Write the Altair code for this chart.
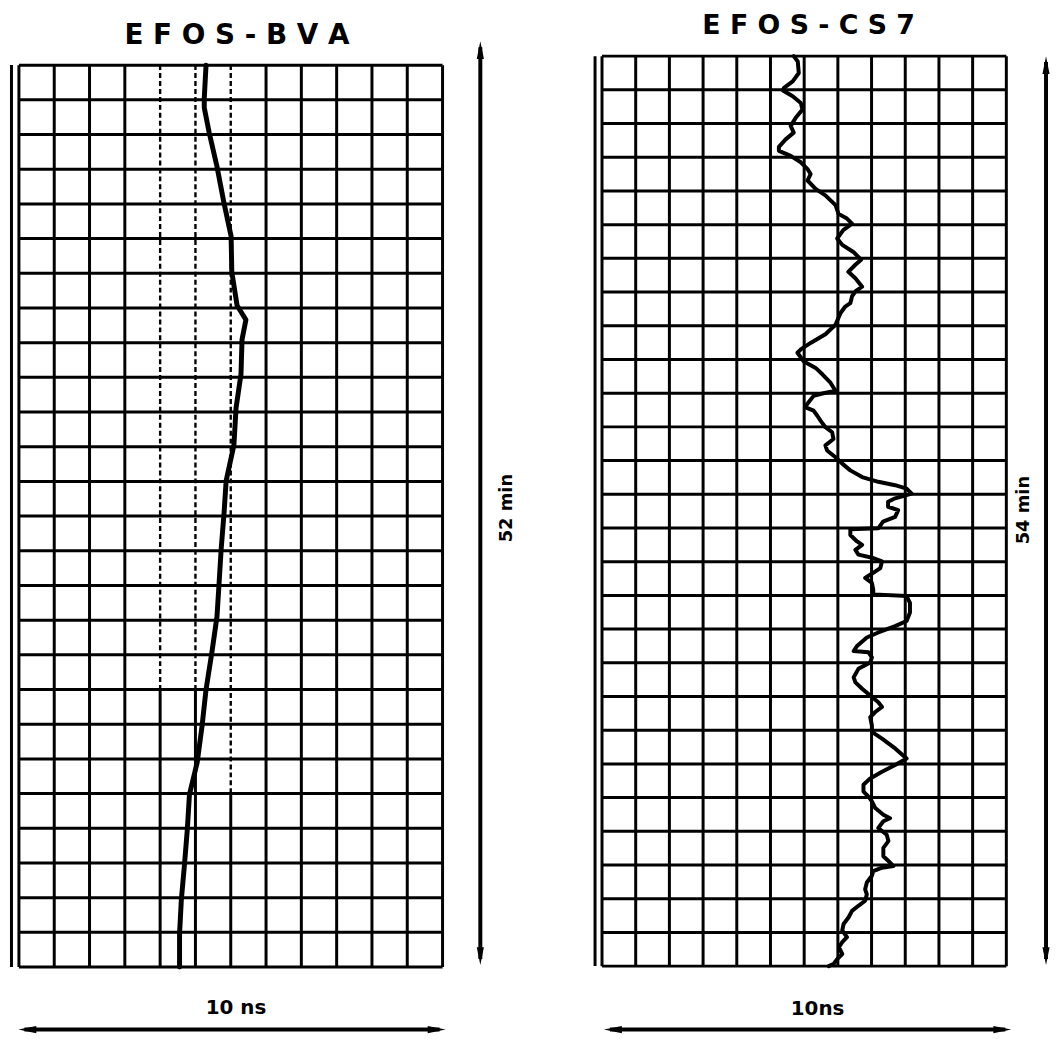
import altair as alt
import pandas as pd

FONT = "DejaVu Sans"
INK = "#000000"

# ---------------- data (grid divisions: x across, rows down) ----------------
# Left record: EFOS-BVA, 12 x 26 divisions (10 ns across, 52 min down)
bva_title = "E F O S - B V A"
bva_ns_label = "10 ns"
bva_min_label = "52 min"
bva_cols = 12
bva_rows = 26
bva_trace_x = [5.30, 5.25, 5.25, 5.39, 5.61, 5.80, 6.01, 6.03, 6.18, 6.43, 6.32,
               6.29, 6.15, 6.09, 5.87, 5.81, 5.73, 5.67, 5.61, 5.47, 5.30, 5.19,
               5.05, 4.83, 4.77, 4.69, 4.60, 4.55, 4.55]
bva_trace_y = [0.00, 0.95, 1.23, 1.95, 2.92, 3.93, 4.93, 5.96, 6.93, 7.34, 7.91,
               8.91, 9.89, 10.95, 11.98, 12.92, 13.93, 14.93, 15.90, 16.90, 18.00,
               19.03, 20.10, 21.03, 22.03, 23.04, 24.07, 25.04, 26.00]
# rulings printed dotted in the upper part of the left record
bva_dotted_cols = [4, 5, 6]
bva_dotted_until = [18, 18, 21]

# Right record: EFOS-CS7, 12 x 27 divisions (10 ns across, 54 min down)
cs7_title = "E F O S - C S 7"
cs7_ns_label = "10ns"
cs7_min_label = "54 min"
cs7_cols = 12
cs7_rows = 27
cs7_trace_y = [0.00, 0.16, 0.50, 0.75, 0.94, 1.02, 1.19, 1.39, 1.58, 1.83, 2.07,
               2.27, 2.47, 2.69, 2.81, 2.96, 3.15, 3.35, 3.50, 3.69, 3.94, 4.13,
               4.42, 4.68, 4.82, 4.97, 5.16, 5.41, 5.60, 5.81, 6.04, 6.19, 6.40,
               6.59, 6.84, 6.98, 7.13, 7.33, 7.43, 7.62, 7.97, 8.25, 8.51, 8.70,
               8.80, 9.05, 9.25, 9.44, 9.69, 9.93, 10.01, 10.08, 10.32, 10.42,
               10.52, 10.67, 10.82, 11.01, 11.16, 11.36, 11.55, 11.70, 11.90,
               12.09, 12.29, 12.49, 12.63, 12.73, 12.83, 12.98, 13.12, 13.22,
               13.37, 13.47, 13.67, 13.81, 14.01, 14.04, 14.21, 14.40, 14.50,
               14.65, 14.79, 14.89, 14.99, 15.19, 15.33, 15.48, 15.63, 15.83,
               15.97, 16.02, 16.22, 16.51, 16.76, 16.91, 17.10, 17.25, 17.50,
               17.65, 17.69, 17.84, 17.99, 18.18, 18.43, 18.58, 18.77, 18.97,
               19.17, 19.31, 19.46, 19.61, 19.86, 20.05, 20.25, 20.54, 20.84,
               21.03, 21.23, 21.43, 21.62, 21.82, 21.97, 22.11, 22.31, 22.51,
               22.61, 22.70, 22.90, 23.10, 23.29, 23.49, 23.74, 23.88, 24.03,
               24.08, 24.18, 24.32, 24.52, 24.72, 24.87, 25.06, 25.21, 25.36,
               25.55, 25.75, 25.94, 26.14, 26.29, 26.44, 26.64, 26.79, 26.93, 27.00]
cs7_trace_x = [5.69, 5.81, 5.84, 5.66, 5.40, 5.37, 5.66, 5.90, 5.95, 5.75, 5.60,
               5.69, 5.45, 5.25, 5.25, 5.60, 5.90, 6.10, 6.19, 6.10, 6.34, 6.63,
               6.93, 7.02, 7.27, 7.42, 7.16, 6.98, 7.13, 7.46, 7.69, 7.52, 7.31,
               7.52, 7.72, 7.52, 7.42, 7.37, 7.22, 7.08, 6.93, 6.63, 6.19, 5.90,
               5.80, 5.98, 6.34, 6.54, 6.78, 6.93, 6.54, 6.28, 6.09, 6.04,
               6.28, 6.39, 6.49, 6.63, 6.83, 6.87, 6.63, 6.68, 6.93,
               7.13, 7.37, 7.72, 8.20, 8.70, 9.04, 9.19, 8.70, 8.49,
               8.49, 8.79, 8.70, 8.34, 8.20, 7.37, 7.37, 7.57, 7.72,
               7.52, 7.61, 8.05, 8.31, 8.26, 8.05, 7.81, 8.01, 8.05,
               8.05, 9.04, 9.14, 9.14, 9.04, 8.70, 8.20, 7.86, 7.57,
               7.47, 7.91, 8.01, 7.96, 7.61, 7.47, 7.52, 7.72, 7.96,
               8.20, 8.31, 8.11, 7.96, 8.01, 8.01, 8.31, 8.70, 9.04,
               8.70, 8.31, 7.96, 7.76, 7.76, 7.91, 8.01, 8.11, 8.35,
               8.55, 8.35, 8.20, 8.45, 8.50, 8.35, 8.35, 8.50, 8.65,
               8.31, 8.05, 8.01, 7.86, 7.81, 7.86, 7.81, 7.61, 7.42,
               7.32, 7.17, 7.13, 7.27, 7.13, 7.03, 7.13, 6.98, 6.88, 6.73]

# ---------------- drawing helpers ----------------
ARROW_UP = "M0,-1L0.4,1L-0.4,1Z"
ARROW_DOWN = "M0,1L0.4,-1L-0.4,-1Z"
ARROW_LEFT = "M-1,0L1,0.4L1,-0.4Z"
ARROW_RIGHT = "M1,0L-1,0.4L-1,-0.4Z"
HEAD = 18  # arrow head length, px
GRID_W = 3.0


def panel(title, ns_label, min_label, cols, rows, tx, ty, col_px, row_px,
          lead, dotted_cols, dotted_until, trace_w, geo):
    width = cols * col_px
    height = (rows + lead) * row_px
    xs = alt.Scale(domain=[0, cols], nice=False, zero=False)
    ys = alt.Scale(domain=[-lead, rows], nice=False, zero=False, reverse=True)
    one = pd.DataFrame({"k": [0]})

    # rulings
    h_df = pd.DataFrame({"y": list(range(rows + 1)), "x0": 0, "x1": cols})
    solid, dots = [], []
    for c in range(cols + 1):
        if c in dotted_cols:
            u = dotted_until[dotted_cols.index(c)]
            dots.append({"x": c, "y0": 0, "y1": u})
            solid.append({"x": c, "y0": u, "y1": rows})
        else:
            solid.append({"x": c, "y0": 0, "y1": rows})
    layers = [
        alt.Chart(h_df).mark_rule(color=INK, strokeWidth=GRID_W).encode(
            x=alt.X("x0:Q", scale=xs, axis=None), x2="x1:Q",
            y=alt.Y("y:Q", scale=ys, axis=None)),
        alt.Chart(pd.DataFrame(solid)).mark_rule(color=INK, strokeWidth=GRID_W).encode(
            x=alt.X("x:Q", scale=xs, axis=None),
            y=alt.Y("y0:Q", scale=ys, axis=None), y2="y1:Q"),
    ]
    if dots:
        layers.append(
            alt.Chart(pd.DataFrame(dots)).mark_rule(
                color=INK, strokeWidth=2.4, strokeDash=[5, 3]).encode(
                x=alt.X("x:Q", scale=xs, axis=None),
                y=alt.Y("y0:Q", scale=ys, axis=None), y2="y1:Q"))

    # recorder trace
    tdf = pd.DataFrame({"i": range(len(tx)), "x": tx, "y": ty})
    layers.append(
        alt.Chart(tdf).mark_line(color=INK, strokeWidth=trace_w,
                                 strokeJoin="round", strokeCap="round").encode(
            x=alt.X("x:Q", scale=xs, axis=None),
            y=alt.Y("y:Q", scale=ys, axis=None),
            order="i:Q"))

    # side line left of the paper
    layers.append(alt.Chart(one).mark_rule(color=INK, strokeWidth=3.0).encode(
        x=alt.value(geo["side_x"]), y=alt.value(geo["side_y0"]),
        y2=alt.value(geo["side_y1"])))

    # title and labels
    txt = pd.DataFrame({"t": [title]})
    layers.append(alt.Chart(txt).mark_text(
        font=FONT, fontSize=geo["title_size"], fontWeight="bold", color=INK,
        align="center", baseline="alphabetic").encode(
        text="t:N", x=alt.value(geo["title_x"]), y=alt.value(geo["title_y"])))
    layers.append(alt.Chart(pd.DataFrame({"t": [ns_label]})).mark_text(
        font=FONT, fontSize=20, fontWeight="bold", color=INK,
        align="center", baseline="alphabetic").encode(
        text="t:N", x=alt.value(geo["ns_x"]), y=alt.value(geo["ns_y"])))
    layers.append(alt.Chart(pd.DataFrame({"t": [min_label]})).mark_text(
        font=FONT, fontSize=18, fontWeight="bold", color=INK, angle=270,
        align="center", baseline="middle").encode(
        text="t:N", x=alt.value(geo["min_x"]), y=alt.value(geo["min_y"])))

    # horizontal double arrow (10 ns)
    hx0, hx1, hy = geo["harrow_x0"], geo["harrow_x1"], geo["harrow_y"]
    layers.append(alt.Chart(one).mark_rule(color=INK, strokeWidth=4.0).encode(
        x=alt.value(hx0 + 6), x2=alt.value(hx1 - 6), y=alt.value(hy)))
    layers.append(alt.Chart(one).mark_point(
        shape=ARROW_LEFT, size=HEAD * HEAD, filled=True, color=INK, opacity=1,
        strokeWidth=0).encode(x=alt.value(hx0 + HEAD / 2), y=alt.value(hy)))
    layers.append(alt.Chart(one).mark_point(
        shape=ARROW_RIGHT, size=HEAD * HEAD, filled=True, color=INK, opacity=1,
        strokeWidth=0).encode(x=alt.value(hx1 - HEAD / 2), y=alt.value(hy)))

    # vertical double arrow (minutes)
    vx, vy0, vy1 = geo["varrow_x"], geo["varrow_y0"], geo["varrow_y1"]
    layers.append(alt.Chart(one).mark_rule(color=INK, strokeWidth=4.0).encode(
        x=alt.value(vx), y=alt.value(vy0 + 6), y2=alt.value(vy1 - 6)))
    layers.append(alt.Chart(one).mark_point(
        shape=ARROW_UP, size=HEAD * HEAD, filled=True, color=INK, opacity=1,
        strokeWidth=0).encode(x=alt.value(vx), y=alt.value(vy0 + HEAD / 2)))
    layers.append(alt.Chart(one).mark_point(
        shape=ARROW_DOWN, size=HEAD * HEAD, filled=True, color=INK, opacity=1,
        strokeWidth=0).encode(x=alt.value(vx), y=alt.value(vy1 - HEAD / 2)))

    if "anchor_x" in geo:
        layers.append(alt.Chart(one).mark_rule(
            color="white", strokeWidth=0.1, opacity=0).encode(
            x=alt.value(geo["anchor_x"]), y=alt.value(geo["anchor_y"]),
            y2=alt.value(geo["anchor_y"] + 1)))

    return alt.layer(*layers).properties(width=width, height=height)


left = panel(
    bva_title, bva_ns_label, bva_min_label, bva_cols, bva_rows,
    bva_trace_x, bva_trace_y, col_px=35.54, row_px=34.92, lead=0.26,
    dotted_cols=bva_dotted_cols, dotted_until=bva_dotted_until, trace_w=5.0,
    geo=dict(side_x=-7.5, side_y0=9, side_y1=917,
             title_size=28, title_x=219.5, title_y=-12,
             ns_x=218.5, ns_y=964,
             min_x=491.5, min_y=455,
             harrow_x0=-0.5, harrow_x1=429.5, harrow_y=980,
             varrow_x=464.5, varrow_y0=-15, varrow_y1=915,
             anchor_x=-10.5, anchor_y=-45))

right = panel(
    cs7_title, cs7_ns_label, cs7_min_label, cs7_cols, cs7_rows,
    cs7_trace_x, cs7_trace_y, col_px=33.92, row_px=33.93, lead=0.0,
    dotted_cols=[], dotted_until=[], trace_w=4.0,
    geo=dict(side_x=-7, side_y0=0, side_y1=916,
             title_size=27, title_x=208, title_y=-22,
             ns_x=217, ns_y=965,
             min_x=425, min_y=457,
             harrow_x0=2, harrow_x1=412, harrow_y=980,
             varrow_x=447, varrow_y0=0, varrow_y1=915))

chart = alt.hconcat(left, right, spacing=160, bounds="flush").properties(
    padding=0, background="white").configure_view(stroke=None)

chart.save("out.html", embed_options={"renderer": "svg", "actions": False})
